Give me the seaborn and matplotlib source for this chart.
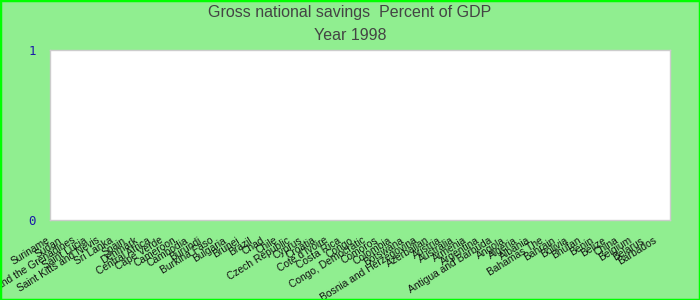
import matplotlib
matplotlib.use("Agg")
import matplotlib.pyplot as plt
import matplotlib.transforms as mtransforms
from matplotlib.patches import Rectangle
import seaborn as sns
import pandas as pd

countries = [
    "Suriname", "Sudan", "Saint Vincent and the Grenadines", "Saint Lucia",
    "Saint Kitts and Nevis", "Sri Lanka", "Spain", "Denmark",
    "Central Africa", "Cape Verde", "Cameroon", "Cambodia",
    "Burundi", "Burkina Faso", "Bulgaria", "Brunei", "Brazil", "Chad",
    "Chile", "Czech Republic", "Cyprus", "Croatia", "Cote d'Ivoire",
    "Costa Rica", "Congo", "Congo, Democratic", "Comoros", "Colombia",
    "Botswana", "Bosnia and Herzegovina", "Azerbaijan", "Austria",
    "Australia", "Armenia", "Argentina", "Antigua and Barbuda", "Angola",
    "Algeria", "Albania", "Bahamas The", "Bahrain", "Bolivia", "Bhutan",
    "Benin", "Belize", "China", "Belgium", "Belarus", "Barbados",
]
savings = [
    0, 0, 0, 0, 0, 0, 0, 0, 0, 0,
    0, 0, 0, 0, 0, 0, 0, 0, 0, 0,
    0, 0, 0, 0, 0, 0, 0, 0, 0, 0,
    0, 0, 0, 0, 0, 0, 0, 0, 0, 0,
    0, 0, 0, 0, 0, 0, 0, 0, 0,
]
y_ticks = [0, 1]
title_line1 = "Gross national savings  Percent of GDP"
title_line2 = "Year 1998"

df = pd.DataFrame({"country": countries, "value": savings})

sns.set_theme(style="white")
plt.rcParams["font.family"] = ["Liberation Sans", "DejaVu Sans"]

W, H = 700, 300
fig = plt.figure(figsize=(7, 3), dpi=100, facecolor="#90EE90")
ax = fig.add_axes([50 / W, (H - 220) / H, 620 / W, 170 / H])
ax.set_facecolor("white")

sns.barplot(data=df, x="country", y="value", ax=ax, color="#4572A7",
            errorbar=None)

ax.set_ylim(0, 1)
ax.set_yticks(y_ticks)
ax.set_yticklabels([str(v) for v in y_ticks], color="#1a1aa8",
                   family="DejaVu Sans Mono", fontsize=9)
ax.tick_params(axis="y", length=0, pad=10)
ax.set_xlabel("")
ax.set_ylabel("")

ax.tick_params(axis="x", length=0, pad=11)
offset = mtransforms.ScaledTranslation(-5 / 100, 0, fig.dpi_scale_trans)
for lab in ax.get_xticklabels():
    lab.set_rotation(32)
    lab.set_ha("right")
    lab.set_fontsize(7.4)
    lab.set_color("#111111")
    lab.set_transform(lab.get_transform() + offset)

for s in ax.spines.values():
    s.set_visible(True)
    s.set_color("#cccccc")
    s.set_linewidth(1)

fig.text(0.5, 1 - 13 / H, title_line1, ha="center", va="center",
         fontsize=11.5, color="#444444")
fig.text(0.5, 1 - 36 / H, title_line2, ha="center", va="center",
         fontsize=11.5, color="#444444")

fig.patches.append(Rectangle((0, 0), 1, 1, transform=fig.transFigure,
                             fill=False, edgecolor="#00ff00", linewidth=2.5,
                             zorder=10))

fig.savefig("out.png", dpi=100, facecolor=fig.get_facecolor())
